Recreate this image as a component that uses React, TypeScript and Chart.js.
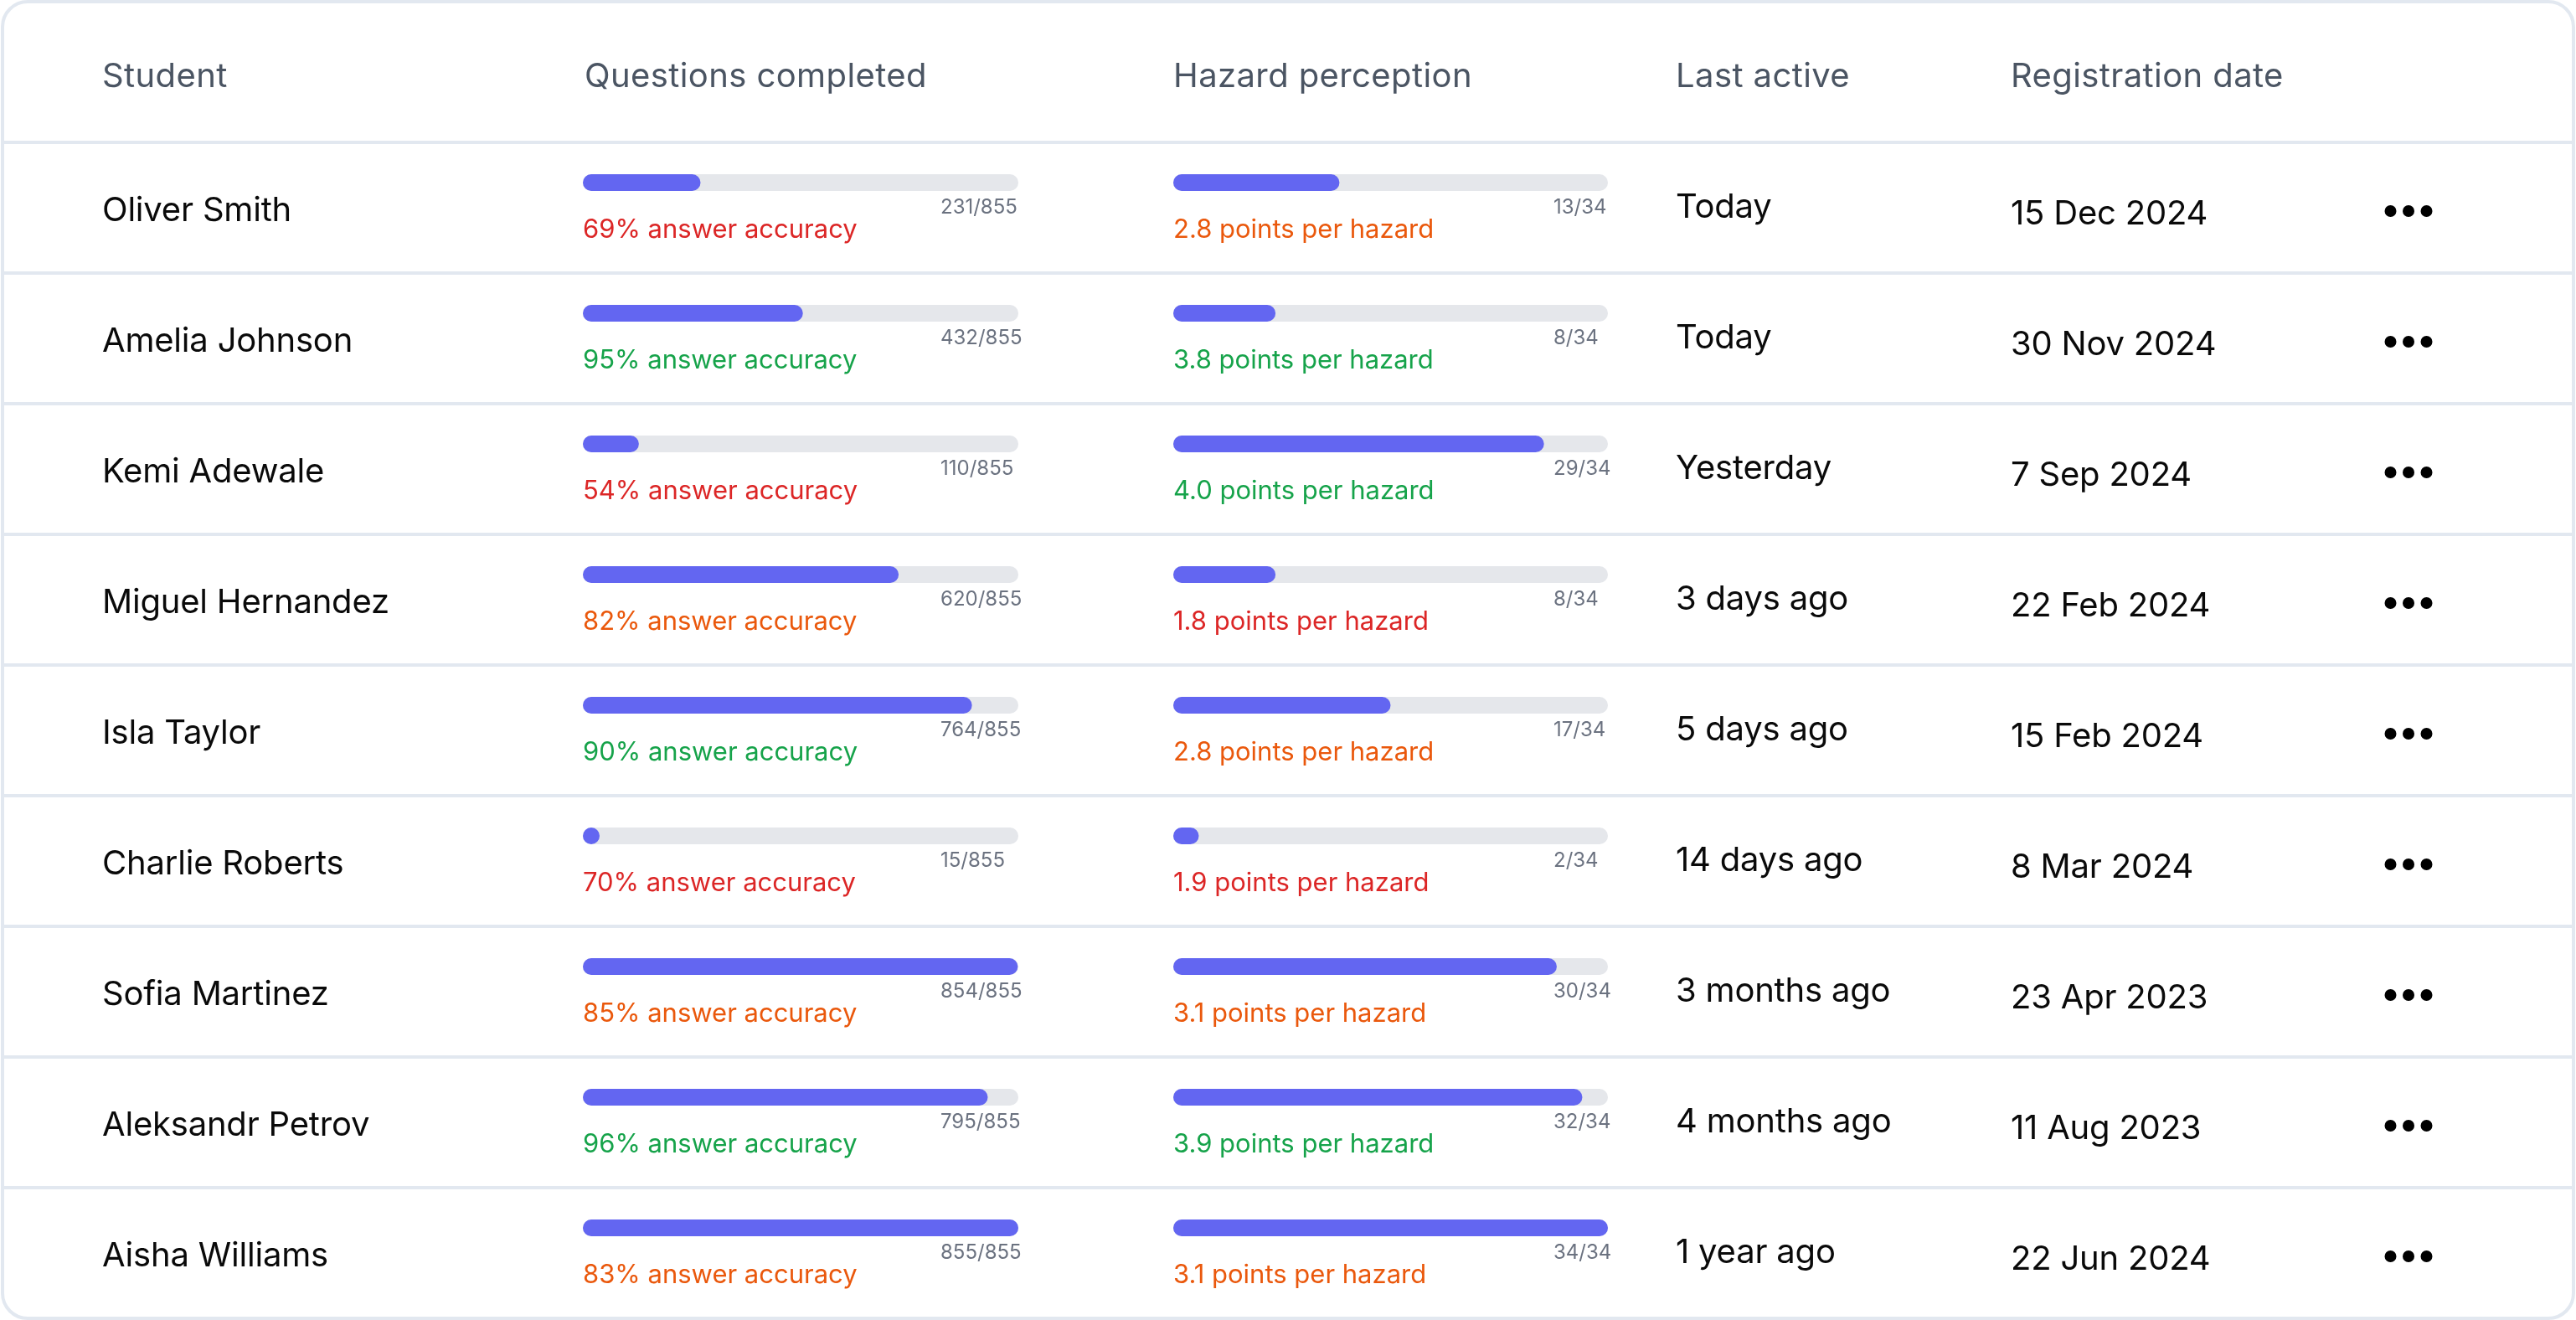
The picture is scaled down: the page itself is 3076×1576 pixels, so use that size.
import React, { useEffect, useRef } from 'react';
import { Chart, registerables } from 'chart.js';

Chart.register(...registerables);

// ---------- data ----------
const headers = ['Student', 'Questions completed', 'Hazard perception', 'Last active', 'Registration date'];
const students = [
  'Oliver Smith',
  'Amelia Johnson',
  'Kemi Adewale',
  'Miguel Hernandez',
  'Isla Taylor',
  'Charlie Roberts',
  'Sofia Martinez',
  'Aleksandr Petrov',
  'Aisha Williams',
];
const questionsDone = [231, 432, 110, 620, 764, 15, 854, 795, 855];
const questionsTotal = 855;
const answerAccuracy = [69, 95, 54, 82, 90, 70, 85, 96, 83];
const hazardsDone = [13, 8, 29, 8, 17, 2, 30, 32, 34];
const hazardsTotal = 34;
const pointsPerHazard = [2.8, 3.8, 4.0, 1.8, 2.8, 1.9, 3.1, 3.9, 3.1];
const lastActive = ['Today', 'Today', 'Yesterday', '3 days ago', '5 days ago', '14 days ago', '3 months ago', '4 months ago', '1 year ago'];
const registrationDate = ['15 Dec 2024', '30 Nov 2024', '7 Sep 2024', '22 Feb 2024', '15 Feb 2024', '8 Mar 2024', '23 Apr 2023', '11 Aug 2023', '22 Jun 2024'];

// ---------- style ----------
const W = 3076;
const H = 1576;
const FONT = 'Inter, "Noto Sans", sans-serif';
const BORDER = '#e2e8f0';
const INDIGO = '#6366f1';
const TRACK = '#e5e7eb';
const RED = '#dc2626';
const ORANGE = '#ea580c';
const GREEN = '#16a34a';

const accuracyColor = (v: number) => (v >= 90 ? GREEN : v >= 80 ? ORANGE : RED);
const hazardColor = (v: number) => (v >= 3.5 ? GREEN : v >= 2.5 ? ORANGE : RED);

const COL_NAME = 122;
const COL_LAST = 2001;
const COL_REG = 2401;

const setSpacing = (ctx: CanvasRenderingContext2D, px: number) => {
  (ctx as any).letterSpacing = `${px}px`;
};

const tablePlugin = {
  id: 'tableChrome',
  beforeDraw(chart: any) {
    const ctx = chart.ctx as CanvasRenderingContext2D;
    const y = chart.scales.y;
    ctx.save();
    ctx.fillStyle = '#ffffff';
    ctx.fillRect(0, 0, W, H);
    ctx.fillStyle = BORDER;
    for (let i = 0; i < students.length; i++) {
      const c = y.getPixelForValue(i);
      ctx.fillRect(3, c - 50, W - 6, 4);
    }
    ctx.strokeStyle = BORDER;
    ctx.lineWidth = 4;
    ctx.beginPath();
    (ctx as any).roundRect(3, 2, W - 6, H - 4, 30);
    ctx.stroke();
    ctx.restore();
  },
  afterDatasetsDraw(chart: any) {
    const ctx = chart.ctx as CanvasRenderingContext2D;
    const y = chart.scales.y;
    const xq = chart.scales.xq;
    const xh = chart.scales.xh;
    ctx.save();
    ctx.textBaseline = 'alphabetic';
    ctx.textAlign = 'left';

    const top = y.getPixelForValue(0);
    ctx.font = `400 40px ${FONT}`;
    setSpacing(ctx, 0.4);
    ctx.fillStyle = '#4b5563';
    const headerX = [COL_NAME, xq.left + 2, xh.left, COL_LAST, COL_REG];
    headers.forEach((h, k) => ctx.fillText(h, headerX[k], top - 114));

    for (let i = 0; i < students.length; i++) {
      const c = y.getPixelForValue(i);
      ctx.fillStyle = '#0a0a0a';
      ctx.font = `400 40px ${FONT}`;
      setSpacing(ctx, -0.2);
      ctx.fillText(students[i], COL_NAME, c + 46);
      ctx.fillText(lastActive[i], COL_LAST, c + 42);
      ctx.fillText(registrationDate[i], COL_REG, c + 50);

      setSpacing(ctx, 0);
      ctx.font = `400 24px ${FONT}`;
      ctx.fillStyle = '#6b7280';
      ctx.fillText(`${questionsDone[i]}/${questionsTotal}`, xq.right - 93, c + 37);
      ctx.fillText(`${hazardsDone[i]}/${hazardsTotal}`, xh.right - 65, c + 37);

      ctx.font = `400 31px ${FONT}`;
      ctx.fillStyle = accuracyColor(answerAccuracy[i]);
      ctx.fillText(`${answerAccuracy[i]}% answer accuracy`, xq.left, c + 66);
      ctx.fillStyle = hazardColor(pointsPerHazard[i]);
      ctx.fillText(`${pointsPerHazard[i].toFixed(1)} points per hazard`, xh.left, c + 66);

      ctx.fillStyle = '#000000';
      [2854.5, 2876, 2897.5].forEach((dx) => {
        ctx.beginPath();
        ctx.arc(dx, c + 34, 7, 0, Math.PI * 2);
        ctx.fill();
      });
    }
    ctx.restore();
  },
};

export default function App() {
  const ref = useRef<HTMLCanvasElement | null>(null);

  useEffect(() => {
    document.body.style.margin = '0';
    document.body.style.background = '#ffffff';
    const canvas = ref.current!;
    const bar = {
      barThickness: 20,
      borderRadius: 10,
      borderSkipped: false,
      grouped: false,
      inflateAmount: 0,
    };
    const chart = new Chart(canvas, {
      type: 'bar',
      data: {
        labels: students,
        datasets: [
          { ...bar, label: 'Questions completed', data: questionsDone, xAxisID: 'xq', backgroundColor: INDIGO, order: 0, minBarLength: 20 },
          { ...bar, label: 'Questions total', data: students.map(() => questionsTotal), xAxisID: 'xq', backgroundColor: TRACK, order: 1 },
          { ...bar, label: 'Hazards completed', data: hazardsDone, xAxisID: 'xh', backgroundColor: INDIGO, order: 0, minBarLength: 20 },
          { ...bar, label: 'Hazards total', data: students.map(() => hazardsTotal), xAxisID: 'xh', backgroundColor: TRACK, order: 1 },
        ] as any,
      },
      options: {
        indexAxis: 'y',
        responsive: false,
        animation: false,
        devicePixelRatio: 1,
        layout: { padding: { left: 696, right: W - 1920, top: 140, bottom: H - 1544 } },
        plugins: { legend: { display: false }, tooltip: { enabled: false } },
        events: [],
        scales: {
          y: { type: 'category', display: false, offset: true, grid: { display: false } },
          xq: { type: 'linear', position: 'bottom', min: 0, max: questionsTotal, display: false, stack: 'cols', stackWeight: 520, weight: 1 },
          xgap: { type: 'linear', position: 'bottom', min: 0, max: 1, display: false, stack: 'cols', stackWeight: 185, weight: 2 },
          xh: { type: 'linear', position: 'bottom', min: 0, max: hazardsTotal, display: false, stack: 'cols', stackWeight: 519, weight: 3 },
        },
      } as any,
      plugins: [tablePlugin],
    });
    return () => chart.destroy();
  }, []);

  return <canvas ref={ref} width={W} height={H} style={{ display: 'block', width: W, height: H }} />;
}
